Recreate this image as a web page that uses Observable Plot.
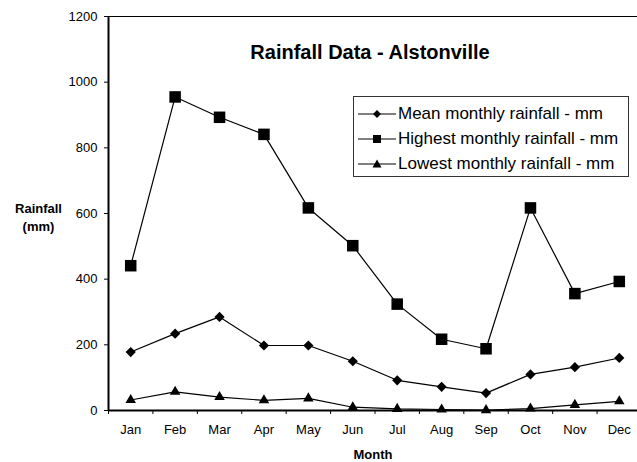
<!DOCTYPE html>
<html>
<head>
<meta charset="utf-8">
<script src="https://cdn.jsdelivr.net/npm/d3@7"></script>
<script src="https://cdn.jsdelivr.net/npm/@observablehq/plot@0.6"></script>
<style>
  html, body { margin: 0; padding: 0; background: #fff; }
  #wrap { position: relative; width: 637px; height: 462px; overflow: hidden; font-family: "Liberation Sans", Arial, sans-serif; }
  #legend { position: absolute; left: 353px; top: 96px; width: 276px; height: 81px; box-sizing: border-box; border: 1px solid #333; background: #fff; }
  .row { position: absolute; left: 0; height: 20px; width: 100%; }
  .row svg { position: absolute; left: 4px; top: 0; }
  .row span { position: absolute; left: 44px; top: 0; line-height: 20px; font-size: 17px; color: #000; white-space: nowrap; }
</style>
</head>
<body>
<div id="wrap"></div>
<script>
const months = ["Jan","Feb","Mar","Apr","May","Jun","Jul","Aug","Sep","Oct","Nov","Dec"];
const meanRain = [178, 234, 285, 198, 198, 150, 92, 72, 53, 110, 132, 160];
const highRain = [441, 955, 893, 841, 617, 502, 324, 217, 188, 617, 356, 393];
const lowRain  = [32, 57, 41, 31, 37, 10, 5, 3, 1, 6, 17, 28];
const seriesNames = ["Mean monthly rainfall - mm", "Highest monthly rainfall - mm", "Lowest monthly rainfall - mm"];
const yTicks = [0, 200, 400, 600, 800, 1000, 1200];

const seriesValues = [meanRain, highRain, lowRain];
const symbols = ["diamond2", "square", "triangle"];
const radii = [4.6, 6.5, 3.9];
const table = [];
seriesValues.forEach((vals, s) => vals.forEach((v, i) => table.push({series: seriesNames[s], i, month: months[i], value: v})));
const boundaries = months.map((_, i) => i - 0.5).concat([months.length - 0.5]);

const plot = Plot.plot({
  width: 637,
  height: 462,
  marginLeft: 108,
  marginTop: 16,
  marginBottom: 52,
  marginRight: 0,
  x: {type: "linear", domain: [-0.5, 11.5], range: [108, 641]},
  y: {domain: [0, 1200], range: [410, 16]},
  style: {fontFamily: "'Liberation Sans', Arial, sans-serif", fontSize: "13px", color: "#000", background: "#fff"},
  marks: [
    Plot.frame({stroke: "#000", strokeWidth: 1}),
    Plot.axisY({ticks: yTicks, tickSize: 4, tickPadding: 7, label: null, fontSize: 13, tickFormat: d => String(d)}),
    Plot.axisX({ticks: boundaries, tickSize: 4, tickFormat: () => "", label: null}),
    Plot.axisX({ticks: months.map((_, i) => i), tickSize: 0, tickPadding: 14, tickFormat: i => months[i], label: null, fontSize: 13}),
    Plot.ruleX([-0.5], {stroke: "#000", strokeWidth: 2}),
    Plot.ruleY([0], {stroke: "#000", strokeWidth: 2}),
    Plot.line(table, {x: "i", y: "value", z: "series", stroke: "#000", strokeWidth: 1.2}),
    ...seriesNames.map((name, s) => Plot.dot(table.filter(d => d.series === name), {x: "i", y: "value", symbol: symbols[s], r: radii[s], fill: "#000", stroke: "none"})),
    Plot.text(["Rainfall Data - Alstonville"], {frameAnchor: "top", lineAnchor: "middle", dx: -3, dy: 36, fontSize: 20, fontWeight: "bold", fill: "#000"}),
    Plot.text(["Month"], {frameAnchor: "bottom", lineAnchor: "middle", dx: 0, dy: 44, fontSize: 13, fontWeight: "bold", fill: "#000"}),
    Plot.text(["Rainfall\n(mm)"], {frameAnchor: "left", textAnchor: "middle", lineAnchor: "middle", lineHeight: 1.35, dx: -70, dy: 3, fontSize: 13, fontWeight: "bold", fill: "#000"})
  ]
});
const wrap = document.getElementById("wrap");
wrap.appendChild(plot);

// Legend
const legend = document.createElement("div");
legend.id = "legend";
const rowCenters = [17, 42, 67];
const legendMarker = [
  '<path d="M19,6 L23,10 L19,14 L15,10 Z" fill="#000"/>',
  '<rect x="15" y="6" width="8" height="8" fill="#000"/>',
  '<path d="M19,5.5 L23.5,13.5 L14.5,13.5 Z" fill="#000"/>'
];
seriesNames.forEach((name, s) => {
  const row = document.createElement("div");
  row.className = "row";
  row.style.top = (rowCenters[s] - 10) + "px";
  row.innerHTML = '<svg width="38" height="20"><line x1="0" y1="10" x2="38" y2="10" stroke="#000" stroke-width="1.2"/>' + legendMarker[s] + '</svg><span>' + name + '</span>';
  legend.appendChild(row);
});
wrap.appendChild(legend);
</script>
</body>
</html>
